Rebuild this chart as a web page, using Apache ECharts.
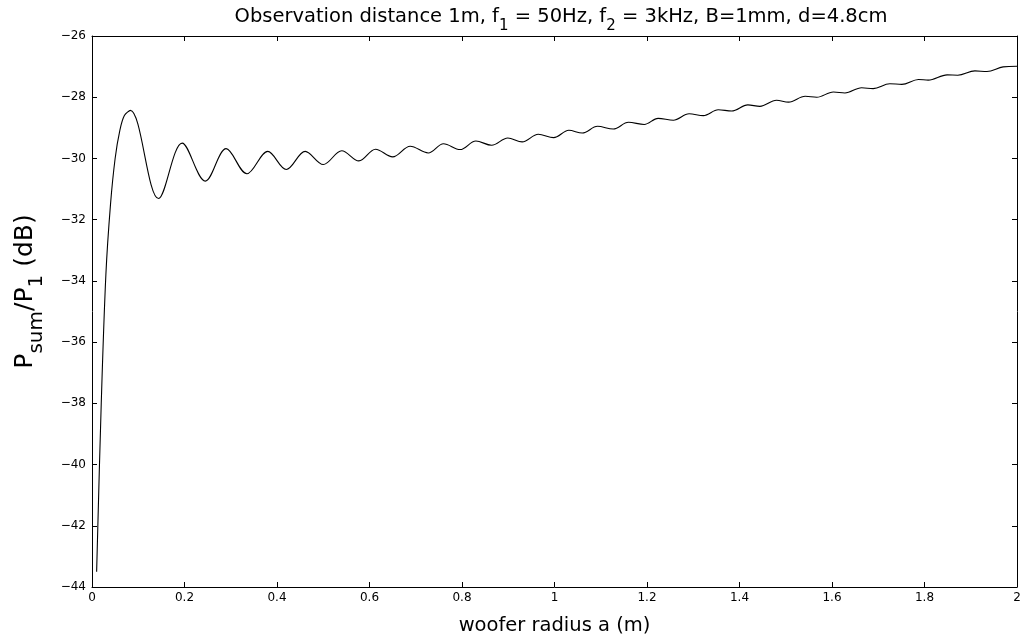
<!DOCTYPE html>
<html>
<head>
<meta charset="utf-8">
<script src="https://cdn.jsdelivr.net/npm/echarts@6/dist/echarts.min.js"></script>
<style>html,body{margin:0;padding:0;background:#fff}#c{width:1023px;height:641px}</style>
</head>
<body>
<div id="c"></div>
<script>
// woofer radius a (m)
const radius = [0.01,0.02,0.03,0.04,0.05,0.06,0.07,0.083,0.144,0.195,0.245,0.290,0.335,0.380,0.420,0.461,0.500,0.540,0.577,0.613,0.650,0.688,0.727,0.760,0.796,0.830,0.864,0.899,0.930,0.965,0.998,1.031,1.060,1.093,1.127,1.160,1.194,1.224,1.257,1.291,1.322,1.354,1.383,1.418,1.444,1.480,1.506,1.542,1.567,1.603,1.628,1.664,1.689,1.725,1.751,1.787,1.808,1.849,1.872,1.909,1.935,1.970,2.0];
// Psum/P1 (dB)
const level = [-43.5,-38.0,-33.8,-31.5,-30.0,-29.1,-28.6,-28.43,-31.31,-29.50,-30.74,-29.68,-30.50,-29.77,-30.36,-29.77,-30.20,-29.75,-30.08,-29.70,-29.95,-29.60,-29.82,-29.52,-29.71,-29.43,-29.57,-29.33,-29.46,-29.21,-29.32,-29.08,-29.17,-28.95,-29.04,-28.82,-28.89,-28.69,-28.75,-28.54,-28.60,-28.41,-28.45,-28.25,-28.30,-28.10,-28.16,-27.97,-28.00,-27.83,-27.86,-27.69,-27.72,-27.56,-27.58,-27.42,-27.44,-27.27,-27.28,-27.14,-27.16,-27.01,-26.99];
const xTicks = {min: 0, max: 2, interval: 0.2};
const yTicks = {min: -44, max: -26, interval: 2};

const FONT = '"DejaVu Sans", "Liberation Sans", Arial, sans-serif';
const chart = echarts.init(document.getElementById('c'), null, {renderer: 'canvas'});
const data = radius.map((x, i) => [x, level[i]]);
const fmtNum = v => String(+v.toFixed(1)).replace('-', '\u2212');
const lineStyle = {color: '#000', width: 1};

chart.setOption({
  animation: false,
  backgroundColor: '#fff',
  title: {
    text: '{t|Observation distance 1m, f}{s|1}{t| = 50Hz, f}{s|2}{t| = 3kHz, B=1mm, d=4.8cm}',
    left: 556, top: 2, textAlign: 'center',
    textStyle: {
      fontWeight: 'normal',
      rich: {
        t: {fontFamily: FONT, fontSize: 19.5, fontWeight: 'normal', color: '#000', lineHeight: 22, verticalAlign: 'top'},
        s: {fontFamily: FONT, fontSize: 15, fontWeight: 'normal', color: '#000', lineHeight: 17, verticalAlign: 'top', padding: [12, 0, 0, 0]}
      }
    }
  },
  grid: {left: 92, right: 6, top: 36, bottom: 54, outerBoundsMode: 'none'},
  xAxis: [{
    type: 'value', min: xTicks.min, max: xTicks.max, interval: xTicks.interval,
    position: 'bottom',
    name: 'woofer radius a (m)', nameLocation: 'middle', nameGap: 29,
    nameTextStyle: {fontFamily: FONT, fontSize: 19.5, color: '#000'},
    axisLine: {show: true, onZero: false, lineStyle},
    axisTick: {show: true, inside: true, length: 5, lineStyle},
    axisLabel: {fontFamily: FONT, fontSize: 12, color: '#000', margin: 5, formatter: fmtNum},
    splitLine: {show: false}
  }, {
    type: 'value', min: xTicks.min, max: xTicks.max, interval: xTicks.interval,
    position: 'top',
    axisLine: {show: true, onZero: false, lineStyle},
    axisTick: {show: true, inside: true, length: 5, lineStyle},
    axisLabel: {show: false}, splitLine: {show: false}
  }],
  yAxis: [{
    type: 'value', min: yTicks.min, max: yTicks.max, interval: yTicks.interval,
    position: 'left',
    name: '{m|P}{s|sum}{m|/P}{s|1}{m| (dB)}', nameLocation: 'middle', nameGap: 50, nameRotate: 90,
    nameTextStyle: {
      padding: [0, 0, 0, 40],
      rich: {
        m: {fontFamily: FONT, fontSize: 25, color: '#000', lineHeight: 29, verticalAlign: 'top'},
        s: {fontFamily: FONT, fontSize: 20, color: '#000', lineHeight: 22, verticalAlign: 'top', padding: [14, 0, 0, 0]}
      }
    },
    axisLine: {show: true, onZero: false, lineStyle},
    axisTick: {show: true, inside: true, length: 5, lineStyle},
    axisLabel: {fontFamily: FONT, fontSize: 12, color: '#000', margin: 6, formatter: fmtNum},
    splitLine: {show: false}
  }, {
    type: 'value', min: yTicks.min, max: yTicks.max, interval: yTicks.interval,
    position: 'right',
    axisLine: {show: true, onZero: false, lineStyle},
    axisTick: {show: true, inside: true, length: 5, lineStyle},
    axisLabel: {show: false}, splitLine: {show: false}
  }],
  series: [{
    type: 'line', data: data, xAxisIndex: 0, yAxisIndex: 0,
    showSymbol: false, smooth: 0.35,
    lineStyle: {color: '#000', width: 1.1}
  }]
});
</script>
</body>
</html>
